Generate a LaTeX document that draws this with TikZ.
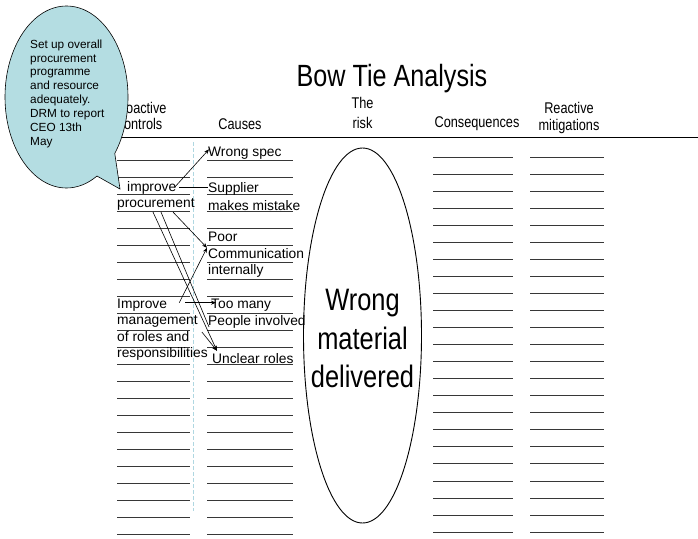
\documentclass[tikz,border=0pt]{standalone}
\usepackage{fontspec}
\setmainfont{Liberation Sans}
\newfontfamily\narrowfont[FakeStretch=0.82]{Liberation Sans}
\usetikzlibrary{shapes.geometric,shapes.callouts,arrows.meta}
\definecolor{bubblefill}{RGB}{180,221,226}
\definecolor{dashblue}{RGB}{175,215,225}
\definecolor{rowline}{RGB}{55,55,55}
\begin{document}
\begin{tikzpicture}[x=1pt,y=-1pt,
  celltext/.style={anchor=base west, inner sep=0pt, font=\fontsize{13.8}{16}\selectfont},
  headtext/.style={anchor=base, inner sep=0pt, font=\narrowfont\fontsize{15.5}{18}\selectfont},
  rowrule/.style={draw=rowline, line width=0.9pt},
  conn/.style={draw=black, line width=0.6pt},
  arr/.style={conn, -{Stealth[length=5pt,width=4pt]}},
  dashline/.style={draw=dashblue, line width=1pt, dash pattern=on 4pt off 2pt},
]
\useasboundingbox[fill=white] (0,0) rectangle (698,538);

% header rule
\draw[line width=0.9pt] (100,137) -- (698,137);

% row rules
\foreach \k in {0,...,22} {
  \draw[rowrule] ({117},{160+17*\k}) -- ({190},{160+17*\k});
  \draw[rowrule] ({207},{160+17*\k}) -- ({293},{160+17*\k});
  \draw[rowrule] ({433},{157+17.05*\k}) -- ({513},{157+17.05*\k});
  \draw[rowrule] ({530},{157+17.05*\k}) -- ({604},{157+17.05*\k});
}

% dashed divider
\draw[dashline] (193,142) -- (193,511);

% proactive controls texts
\node[celltext] (improve) at (127,191) {improve};
\node[celltext] (procurement) at (117,207) {procurement};
\node[celltext] (improvem) at (117,308) {Improve};
\node[celltext] (mgmt) at (117,324) {management};
\node[celltext] (roles) at (117,341) {of roles and};
\node[celltext] (resp) at (117,357) {responsibilities};

% causes texts
\node[celltext] (wrongspec) at (208,156) {Wrong spec};
\node[celltext] (supplier) at (208,192) {Supplier};
\node[celltext] (mistake) at (208,210) {makes mistake};
\node[celltext] (poor) at (208,241) {Poor};
\node[celltext] (communication) at (208,258) {Communication};
\node[celltext] (internally) at (208,274) {internally};
\node[celltext] (toomany) at (211,308) {Too many};
\node[celltext] (people) at (208,325) {People involved};
\node[celltext] (unclear) at (212,363) {Unclear roles};

% connectors
\draw[arr] ([xshift=-2pt]improve.east) -- ([xshift=1pt,yshift=-3pt]wrongspec.north west);
\draw[conn] ([xshift=3pt]improve.east) -- (improve.east -| supplier.west);
\draw[arr] ([xshift=56pt,yshift=-2pt]procurement.south west) -- ([xshift=-1pt]communication.north west);
\draw[arr] ([xshift=36pt,yshift=-2pt]procurement.south west) -- ([xshift=5pt,yshift=2pt]unclear.north west);
\draw[conn] ([xshift=44pt,yshift=-2pt]procurement.south west) -- ([xshift=1pt,yshift=-5.5pt]people.west);
\draw[arr] ([xshift=12pt,yshift=2pt]improvem.east) -- ([xshift=-1pt]communication.north west);
\draw[arr] ([xshift=18pt,yshift=2pt]improvem.east) -- ([xshift=5pt,yshift=2pt]toomany.west);
\draw[arr] ([xshift=4pt,yshift=-5pt]mgmt.south east) -- ([xshift=5pt,yshift=2pt]unclear.north west);

% the risk
\node[draw, ellipse, line width=0.9pt, minimum width=118pt, minimum height=375pt, inner sep=0pt] (risk) at (362.5,335.5) {};
\node[inner sep=0pt, align=center, font=\narrowfont\fontsize{31}{38.5}\selectfont] (risktext) at ([yshift=-3.4pt]risk.center) {Wrong\\material\\delivered};

% headers
\node[headtext] (hproactive) at (140,113) {Proactive};
\node[headtext] (hcontrols) at (140,129.5) {controls};
\node[headtext] (hcauses) at (240,129.5) {Causes};
\node[headtext] (hthe) at (362.5,108.5) {The};
\node[headtext] (hrisk) at (362.5,128) {risk};
\node[headtext] (hcons) at (477,127.5) {Consequences};
\node[headtext] (hreactive) at (569,113) {Reactive};
\node[headtext] (hmitig) at (569,130.5) {mitigations};

% title
\node[anchor=base, inner sep=0pt, font=\narrowfont\fontsize{30.7}{36}\selectfont] (title) at (392,86) {Bow Tie Analysis};

% callout bubble
\node[ellipse callout, draw, fill=bubblefill, line width=0.6pt, minimum width=123pt, minimum height=182pt, inner sep=0pt, callout absolute pointer={(120,189)}, callout pointer arc=22] (bubble) at (66.5,97) {};
\node[anchor=north west, inner sep=0pt, align=left, font=\fontsize{11.8}{13.9}\selectfont] (bubbletext) at (30,39.4) {Set up overall\\procurement\\programme\\and resource\\adequately.\\DRM to report\\CEO 13th\\May};
\end{tikzpicture}
\end{document}
